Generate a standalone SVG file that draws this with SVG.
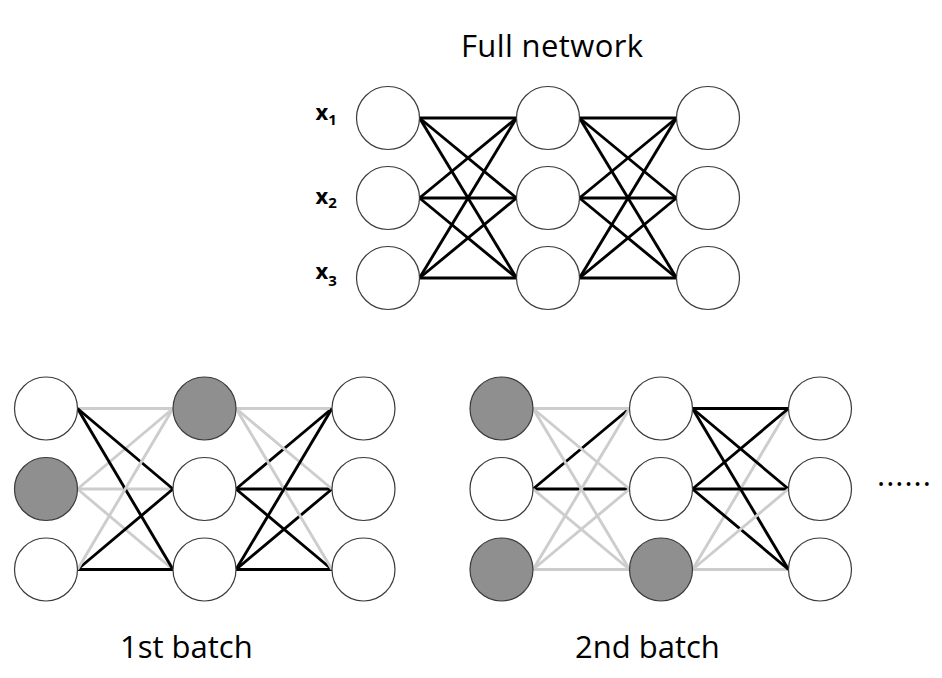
<svg xmlns="http://www.w3.org/2000/svg" width="942" height="678" viewBox="0 0 942 678">
<style>
.n{fill:#ffffff;stroke:#3a3a3a;stroke-width:1.2}
.d{fill:#8f8f8f;stroke:#3a3a3a;stroke-width:1.2}
.b{stroke:#000000;stroke-width:2.9;fill:none}
.g{stroke:#cdcdcd;stroke-width:2.9;fill:none}
.t{font-family:"Open Sans","Liberation Sans",sans-serif;font-size:31px;fill:#000}
.x{font-family:"Open Sans","Liberation Sans",sans-serif;font-weight:bold;fill:#000}
</style>
<rect width="942" height="678" fill="#ffffff"/>
<g id="connectors">
  <g id="full-edges">
    <line class="b" x1="419.5" y1="118" x2="516.5" y2="118"/>
    <line class="b" x1="419.5" y1="118" x2="516.5" y2="198"/>
    <line class="b" x1="419.5" y1="118" x2="516.5" y2="278"/>
    <line class="b" x1="419.5" y1="198" x2="516.5" y2="118"/>
    <line class="b" x1="419.5" y1="198" x2="516.5" y2="198"/>
    <line class="b" x1="419.5" y1="198" x2="516.5" y2="278"/>
    <line class="b" x1="419.5" y1="278" x2="516.5" y2="118"/>
    <line class="b" x1="419.5" y1="278" x2="516.5" y2="198"/>
    <line class="b" x1="419.5" y1="278" x2="516.5" y2="278"/>
    <line class="b" x1="579.5" y1="118" x2="676.5" y2="118"/>
    <line class="b" x1="579.5" y1="118" x2="676.5" y2="198"/>
    <line class="b" x1="579.5" y1="118" x2="676.5" y2="278"/>
    <line class="b" x1="579.5" y1="198" x2="676.5" y2="118"/>
    <line class="b" x1="579.5" y1="198" x2="676.5" y2="198"/>
    <line class="b" x1="579.5" y1="198" x2="676.5" y2="278"/>
    <line class="b" x1="579.5" y1="278" x2="676.5" y2="118"/>
    <line class="b" x1="579.5" y1="278" x2="676.5" y2="198"/>
    <line class="b" x1="579.5" y1="278" x2="676.5" y2="278"/>
  </g>
  <g id="batch1-edges">
    <line class="g" x1="77.5" y1="408.5" x2="173" y2="408.5"/>
    <line class="g" x1="77.5" y1="489" x2="173" y2="408.5"/>
    <line class="g" x1="77.5" y1="489" x2="173" y2="489"/>
    <line class="g" x1="77.5" y1="489" x2="173" y2="569.5"/>
    <line class="b" x1="77.5" y1="408.5" x2="173" y2="489"/>
    <line class="b" x1="77.5" y1="408.5" x2="173" y2="569.5"/>
    <line class="b" x1="77.5" y1="569.5" x2="173" y2="489"/>
    <line class="b" x1="77.5" y1="569.5" x2="173" y2="569.5"/>
    <line class="g" x1="77.5" y1="569.5" x2="173" y2="408.5"/>
    <line class="b" x1="236" y1="489" x2="332" y2="408.5"/>
    <line class="b" x1="236" y1="489" x2="332" y2="489"/>
    <line class="b" x1="236" y1="569.5" x2="332" y2="489"/>
    <line class="b" x1="236" y1="569.5" x2="332" y2="569.5"/>
    <line class="b" x1="236" y1="489" x2="332" y2="569.5"/>
    <line class="g" x1="236" y1="408.5" x2="332" y2="408.5"/>
    <line class="g" x1="236" y1="408.5" x2="332" y2="489"/>
    <line class="g" x1="236" y1="408.5" x2="332" y2="569.5"/>
    <line class="b" x1="236" y1="569.5" x2="332" y2="408.5"/>
  </g>
  <g id="batch2-edges">
    <line class="b" x1="533" y1="489" x2="629.5" y2="408.5"/>
    <line class="b" x1="533" y1="489" x2="629.5" y2="489"/>
    <line class="g" x1="533" y1="408.5" x2="629.5" y2="408.5"/>
    <line class="g" x1="533" y1="408.5" x2="629.5" y2="489"/>
    <line class="g" x1="533" y1="408.5" x2="629.5" y2="569.5"/>
    <line class="g" x1="533" y1="489" x2="629.5" y2="569.5"/>
    <line class="g" x1="533" y1="569.5" x2="629.5" y2="408.5"/>
    <line class="g" x1="533" y1="569.5" x2="629.5" y2="489"/>
    <line class="g" x1="533" y1="569.5" x2="629.5" y2="569.5"/>
    <line class="g" x1="692.5" y1="569.5" x2="788.5" y2="408.5"/>
    <line class="g" x1="692.5" y1="569.5" x2="788.5" y2="569.5"/>
    <line class="b" x1="692.5" y1="408.5" x2="788.5" y2="408.5"/>
    <line class="b" x1="692.5" y1="408.5" x2="788.5" y2="489"/>
    <line class="b" x1="692.5" y1="408.5" x2="788.5" y2="569.5"/>
    <line class="b" x1="692.5" y1="489" x2="788.5" y2="408.5"/>
    <line class="b" x1="692.5" y1="489" x2="788.5" y2="489"/>
    <line class="b" x1="692.5" y1="489" x2="788.5" y2="569.5"/>
    <line class="g" x1="692.5" y1="569.5" x2="788.5" y2="489"/>
  </g>
</g>
<g id="full-network">
  <g id="f-in1"><circle class="n" cx="388" cy="118" r="31.5"/></g>
  <g id="f-in2"><circle class="n" cx="388" cy="198" r="31.5"/></g>
  <g id="f-in3"><circle class="n" cx="388" cy="278" r="31.5"/></g>
  <g id="f-h1"><circle class="n" cx="548" cy="118" r="31.5"/></g>
  <g id="f-h2"><circle class="n" cx="548" cy="198" r="31.5"/></g>
  <g id="f-h3"><circle class="n" cx="548" cy="278" r="31.5"/></g>
  <g id="f-o1"><circle class="n" cx="708" cy="118" r="31.5"/></g>
  <g id="f-o2"><circle class="n" cx="708" cy="198" r="31.5"/></g>
  <g id="f-o3"><circle class="n" cx="708" cy="278" r="31.5"/></g>
</g>
<g id="batch1">
  <g id="b1-in1"><circle class="n" cx="46" cy="408.5" r="31.5"/></g>
  <g id="b1-in2"><circle class="d" cx="46" cy="489" r="31.5"/></g>
  <g id="b1-in3"><circle class="n" cx="46" cy="569.5" r="31.5"/></g>
  <g id="b1-h1"><circle class="d" cx="204.5" cy="408.5" r="31.5"/></g>
  <g id="b1-h2"><circle class="n" cx="204.5" cy="489" r="31.5"/></g>
  <g id="b1-h3"><circle class="n" cx="204.5" cy="569.5" r="31.5"/></g>
  <g id="b1-o1"><circle class="n" cx="363.5" cy="408.5" r="31.5"/></g>
  <g id="b1-o2"><circle class="n" cx="363.5" cy="489" r="31.5"/></g>
  <g id="b1-o3"><circle class="n" cx="363.5" cy="569.5" r="31.5"/></g>
</g>
<g id="batch2">
  <g id="b2-in1"><circle class="d" cx="501.5" cy="408.5" r="31.5"/></g>
  <g id="b2-in2"><circle class="n" cx="501.5" cy="489" r="31.5"/></g>
  <g id="b2-in3"><circle class="d" cx="501.5" cy="569.5" r="31.5"/></g>
  <g id="b2-h1"><circle class="n" cx="661" cy="408.5" r="31.5"/></g>
  <g id="b2-h2"><circle class="n" cx="661" cy="489" r="31.5"/></g>
  <g id="b2-h3"><circle class="d" cx="661" cy="569.5" r="31.5"/></g>
  <g id="b2-o1"><circle class="n" cx="820" cy="408.5" r="31.5"/></g>
  <g id="b2-o2"><circle class="n" cx="820" cy="489" r="31.5"/></g>
  <g id="b2-o3"><circle class="n" cx="820" cy="569.5" r="31.5"/></g>
</g>
<g id="labels">
  <text class="t" x="461" y="56.5" textLength="182" lengthAdjust="spacing">Full network</text>
  <text class="x" x="315.5" y="120" font-size="22">x<tspan font-size="15" dy="5">1</tspan></text>
  <text class="x" x="315.5" y="204" font-size="22">x<tspan font-size="15" dy="4">2</tspan></text>
  <text class="x" x="315.5" y="279" font-size="22">x<tspan font-size="15" dy="7">3</tspan></text>
  <text class="t" x="120" y="658.3">1st batch</text>
  <text class="t" x="575" y="658.3">2nd batch</text>
  <text class="t" x="877" y="486" letter-spacing="1">......</text>
</g>
</svg>
